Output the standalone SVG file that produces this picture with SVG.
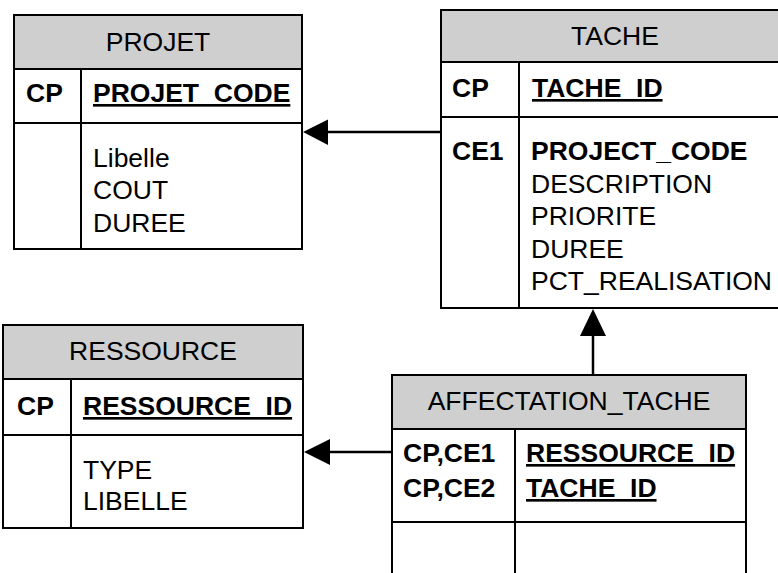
<svg xmlns="http://www.w3.org/2000/svg" width="778" height="573" viewBox="0 0 778 573">
<style>
text{font-family:"Liberation Sans",Arial,sans-serif;font-size:26.5px;fill:#000}
.b{font-weight:bold}
.u{text-decoration:underline}
.t{text-anchor:middle}
.box{fill:#fff;stroke:#000;stroke-width:2}
.hd{fill:#cfcfcf;stroke:#000;stroke-width:2}
.ln{stroke:#000;stroke-width:2;fill:none}
.cn{stroke:#000;stroke-width:2.5;fill:none}
.ah{fill:#000;stroke:none}
</style>
<rect width="778" height="573" fill="#fff"/>
<g id="connectors">
<line class="cn" x1="327" y1="132" x2="441" y2="132"/>
<polygon class="ah" points="303,132 328,119.5 328,145"/>
<line class="cn" x1="593" y1="335" x2="593" y2="375"/>
<polygon class="ah" points="593,309 580,336 606,336"/>
<line class="cn" x1="329" y1="452" x2="392" y2="452"/>
<polygon class="ah" points="304,452 330,439 330,465"/>
</g>
<g id="projet">
<rect class="box" x="14" y="15" width="288" height="234"/>
<rect class="hd" x="14" y="15" width="288" height="54"/>
<line class="ln" x1="14" y1="123" x2="302" y2="123"/>
<line class="ln" x1="81" y1="69" x2="81" y2="249"/>
<text class="t" x="158" y="51">PROJET</text>
<text class="b" x="26" y="102">CP</text>
<text class="b u" x="93" y="102">PROJET_CODE</text>
<text x="93" y="167">Libelle</text>
<text x="93" y="199">COUT</text>
<text x="93" y="232">DUREE</text>
</g>
<g id="tache">
<rect class="box" x="441" y="10" width="348" height="298"/>
<rect class="hd" x="441" y="10" width="348" height="52"/>
<line class="ln" x1="441" y1="117" x2="789" y2="117"/>
<line class="ln" x1="519" y1="62" x2="519" y2="308"/>
<text class="t" x="615" y="45">TACHE</text>
<text class="b" x="452" y="97">CP</text>
<text class="b u" x="532" y="97">TACHE_ID</text>
<text class="b" x="452" y="160">CE1</text>
<text class="b" x="531" y="160">PROJECT_CODE</text>
<text x="531" y="193">DESCRIPTION</text>
<text x="531" y="225">PRIORITE</text>
<text x="531" y="258">DUREE</text>
<text x="531" y="290">PCT_REALISATION</text>
</g>
<g id="ressource">
<rect class="box" x="3" y="325" width="300" height="203"/>
<rect class="hd" x="3" y="325" width="300" height="54"/>
<line class="ln" x1="3" y1="435" x2="303" y2="435"/>
<line class="ln" x1="71" y1="379" x2="71" y2="528"/>
<text class="t" x="153" y="360">RESSOURCE</text>
<text class="b" x="17" y="415">CP</text>
<text class="b u" x="83" y="415">RESSOURCE_ID</text>
<text x="83" y="479">TYPE</text>
<text x="83" y="510">LIBELLE</text>
</g>
<g id="affectation_tache">
<rect class="box" x="392" y="375" width="354" height="210"/>
<rect class="hd" x="392" y="375" width="354" height="54"/>
<line class="ln" x1="392" y1="522" x2="746" y2="522"/>
<line class="ln" x1="515" y1="429" x2="515" y2="585"/>
<text class="t" x="569" y="410">AFFECTATION_TACHE</text>
<text class="b" x="403" y="462">CP,CE1</text>
<text class="b" x="403" y="497">CP,CE2</text>
<text class="b u" x="526" y="462">RESSOURCE_ID</text>
<text class="b u" x="526" y="497">TACHE_ID</text>
</g>
</svg>
